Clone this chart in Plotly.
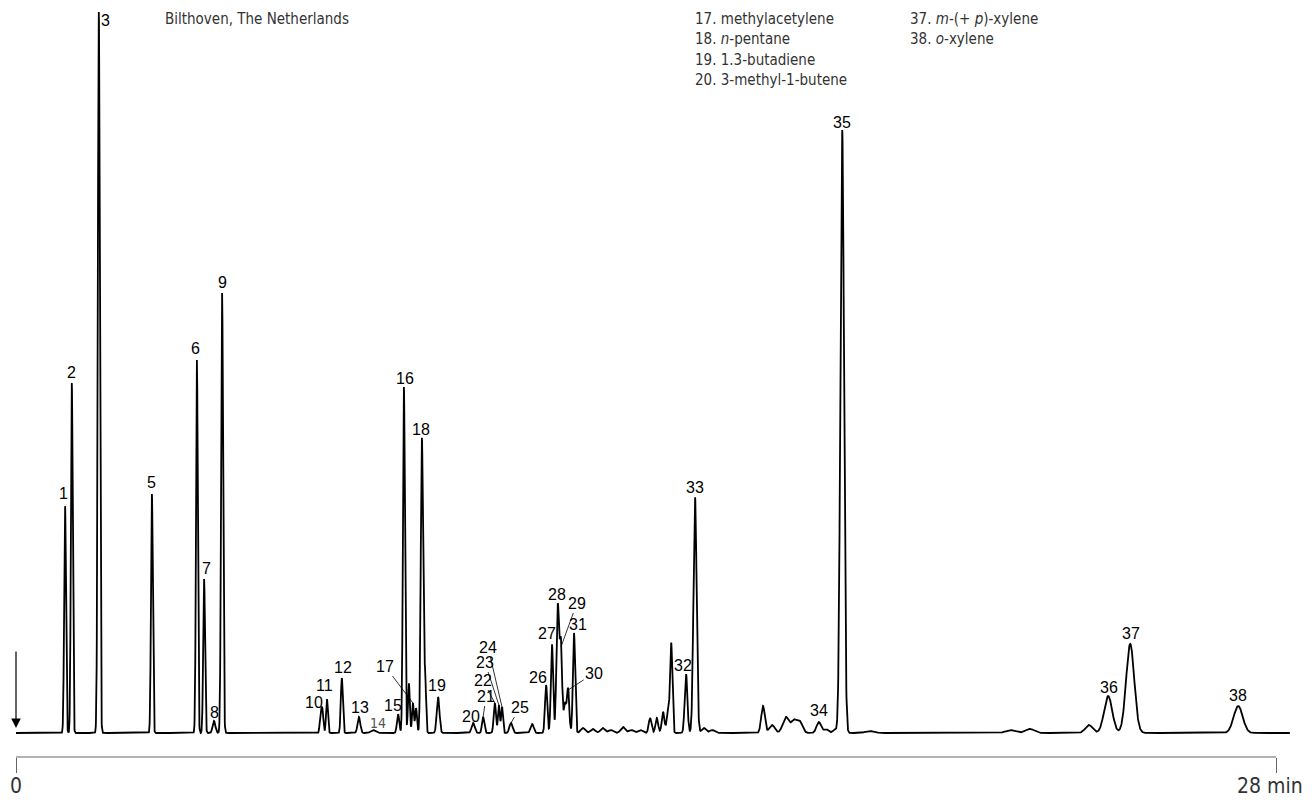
import numpy as np
import plotly.graph_objects as go

# ---- Data: peaks (retention time in min, height in a.u., width sigma in min)
peak_times = [1.09, 1.24, 1.84, 3.02, 4.02, 4.18, 4.40, 4.58,
              6.77, 6.81, 6.91, 7.24, 7.62, 7.93, 8.49, 8.62, 8.73, 8.82, 8.89, 9.02, 9.09, 9.38,
              10.16, 10.38, 10.64, 10.73, 10.80, 11.00, 11.47, 11.78, 11.91, 12.04, 12.11, 12.20,
              12.27, 12.40, 12.60, 12.82, 13.04, 13.22, 13.49, 13.67, 13.87,
              14.09, 14.24, 14.38, 14.49, 14.56, 14.89, 15.09, 15.29, 15.47,
              16.60, 16.80, 17.11, 17.29, 17.42, 17.84, 18.00, 18.20, 18.36, 18.98,
              22.09, 22.53, 23.84, 24.27, 24.76, 27.16]
peak_heights = [228, 350, 721, 239, 373, 154, 12, 440,
                20, 22, 34, 55, 16, 3, 19, 346, 50, 30, 25, 295, 60, 36,
                10, 16, 30, 28, 26, 10, 9, 48, 89, 128, 86, 30,
                43, 100, 5, 4, 5, 3, 6, 3, 3,
                15, 15, 21, 21, 89, 59, 236, 5, 3,
                27, 8, 16, 12, 11, 11, 4, 3, 603, 2,
                3, 4, 8, 37, 89, 27]
peak_sigmas = [0.02, 0.02, 0.022, 0.02, 0.02, 0.02, 0.03, 0.022,
               0.02, 0.02, 0.02, 0.022, 0.03, 0.05, 0.025, 0.022, 0.02, 0.02, 0.02, 0.025, 0.02, 0.03,
               0.035, 0.025, 0.025, 0.02, 0.02, 0.035, 0.035, 0.025, 0.025, 0.03, 0.025, 0.03,
               0.025, 0.025, 0.05, 0.05, 0.05, 0.05, 0.05, 0.05, 0.05,
               0.03, 0.03, 0.03, 0.03, 0.025, 0.03, 0.035, 0.05, 0.05,
               0.04, 0.06, 0.07, 0.06, 0.06, 0.05, 0.05, 0.05, 0.04, 0.1,
               0.1, 0.1, 0.08, 0.09, 0.09, 0.1]
t_end = 28.31

# ---- Peak labels: (label, index of peak in the table)
label_names = ["1", "2", "3", "5", "6", "7", "8", "9", "10", "11", "12", "13", "14", "15", "16",
               "17", "18", "19", "20", "21", "22", "23", "24", "25", "26", "27", "28", "29", "30",
               "31", "32", "33", "34", "35", "36", "37", "38"]
label_peak = [0, 1, 2, 3, 4, 5, 6, 7, 8, 10, 11, 12, 13, 14, 15,
              17, 19, 21, 22, 23, 24, 25, 26, 27, 29, 30, 31, 32, 34,
              35, 48, 49, 57, 60, 65, 66, 67]

legend_col1 = ["17. methylacetylene", "18. <i>n</i>-pentane", "19. 1.3-butadiene", "20. 3-methyl-1-butene"]
legend_col2 = ["37. <i>m</i>-(+ <i>p</i>)-xylene", "38. <i>o</i>-xylene"]
source_text = "Bilthoven, The Netherlands"
tick_vals = [0, 28]
tick_text = ["0", "28 min"]

# ---- layout/style (pixel offsets of label text from the peak top; leaders drawn as arrows)
label_style = {
    "1": (-2, -12), "2": (0, -11), "3": (7, 8), "5": (0, -12), "6": (-1, -12), "7": (2, -11),
    "8": (0, -9), "9": (0, -11), "10": (-7, -11), "11": (-2, -14), "12": (1, -11), "13": (1, -10),
    "14": (5, -7), "15": (-5, -9), "16": (1, -9), "18": (-1, -9), "19": (-1, -12), "20": (-2, -7),
    "26": (-8, -8), "27": (-5, -11), "28": (-1, -11), "31": (4, -9), "32": (-3, -9), "33": (0, -10),
    "34": (0, -12), "35": (0, -8), "36": (1, -9), "37": (1, -11), "38": (0, -11),
}
leader_style = {
    "17": (-28, -37), "21": (3, -21), "22": (-12, -23), "23": (-14, -43), "24": (-14, -60),
    "25": (9, -16), "29": (16, -44), "30": (26, -17),
}
legend_rows_y = [19, 39.5, 60, 80]   # page px centres of the list rows
NARROW = "DejaVu Sans Condensed, Liberation Sans Narrow, Roboto, sans-serif"

# page body adds an 8px margin on every side; keep figure inside the window
PAGE_OFF = 8
FIG_W, FIG_H = 1314 - 2 * PAGE_OFF, 807 - 2 * PAGE_OFF
PLOT_L, PLOT_W = 16 - PAGE_OFF, 1278
PLOT_B = 757 - PAGE_OFF  # bottom of plot area in figure px

t = np.arange(0, t_end, 0.004)
signal = np.zeros_like(t)
for tc, h, s in zip(peak_times, peak_heights, peak_sigmas):
    signal += h * np.exp(-0.5 * ((t - tc) / s) ** 2)

fig = go.Figure()
fig.add_trace(go.Scatter(x=t, y=signal, mode="lines",
                         line=dict(color="black", width=1.8), hoverinfo="skip"))


def px_to_paper_x(px):
    return (px - PAGE_OFF - PLOT_L) / PLOT_W


def py_to_paper_y(py):
    return (PLOT_B - (py - PAGE_OFF)) / PLOT_B


label_font = dict(family="Liberation Sans, Arial, sans-serif", size=16, color="black")
annotations = []
for name, idx in zip(label_names, label_peak):
    pt, ph = peak_times[idx], peak_heights[idx]
    if name in leader_style:
        ax, ay = leader_style[name]
        annotations.append(dict(x=pt, y=ph, xref="x", yref="y", text=name, showarrow=True,
                                arrowhead=0, arrowwidth=0.8, arrowcolor="black", ax=ax, ay=ay,
                                standoff=0, font=label_font))
    else:
        dx, dy = label_style[name]
        f = label_font
        if name == "14":
            f = dict(family=NARROW, size=14, color="#555")
        annotations.append(dict(x=pt, y=ph, xref="x", yref="y", text=name, showarrow=False,
                                xshift=dx, yshift=-dy, xanchor="center", yanchor="middle", font=f))

# injection arrow
annotations.append(dict(x=0, y=5, xref="x", yref="y", text="", showarrow=True, arrowhead=2,
                        arrowsize=1.6, arrowwidth=1.2, arrowcolor="black", ax=0, ay=-78))

text_font = dict(family=NARROW, size=15, color="#333")
annotations.append(dict(x=px_to_paper_x(163), y=py_to_paper_y(19), xref="paper", yref="paper",
                        text=source_text, showarrow=False, xanchor="left", yanchor="middle",
                        font=text_font))
for i, txt in enumerate(legend_col1):
    annotations.append(dict(x=px_to_paper_x(693), y=py_to_paper_y(legend_rows_y[i]),
                            xref="paper", yref="paper", text=txt, showarrow=False,
                            xanchor="left", yanchor="middle", font=text_font))
for i, txt in enumerate(legend_col2):
    annotations.append(dict(x=px_to_paper_x(908), y=py_to_paper_y(legend_rows_y[i]),
                            xref="paper", yref="paper", text=txt, showarrow=False,
                            xanchor="left", yanchor="middle", font=text_font))
# time-axis end labels
axis_label_font = dict(family=NARROW, size=21, color="#333")
annotations.append(dict(x=0, y=0, xref="x", yref="paper", text=tick_text[0], showarrow=False,
                        xanchor="center", yanchor="middle", yshift=-29, font=axis_label_font))
annotations.append(dict(x=tick_vals[1], y=0, xref="x", yref="paper", text=tick_text[1],
                        showarrow=False, xanchor="right", yanchor="middle", xshift=29, yshift=-29,
                        font=axis_label_font))
fig.update_layout(annotations=annotations)

fig.add_shape(type="line", xref="x", yref="paper", x0=0, x1=28, y0=0, y1=0,
              line=dict(color="#666", width=1.2))

fig.update_layout(
    width=FIG_W, height=FIG_H,
    margin=dict(l=PLOT_L, r=FIG_W - PLOT_L - PLOT_W, t=0, b=FIG_H - PLOT_B, autoexpand=False),
    paper_bgcolor="white", plot_bgcolor="white",
    showlegend=False,
    xaxis=dict(range=[0, 28.4], showgrid=False, zeroline=False, showline=False, automargin=False,
               tickvals=tick_vals, ticktext=["", ""], ticks="outside", ticklen=15,
               tickcolor="#666", tickwidth=1.2),
    yaxis=dict(range=[-24, PLOT_B - 24], visible=False, automargin=False),
)

fig.write_html("out.html")
